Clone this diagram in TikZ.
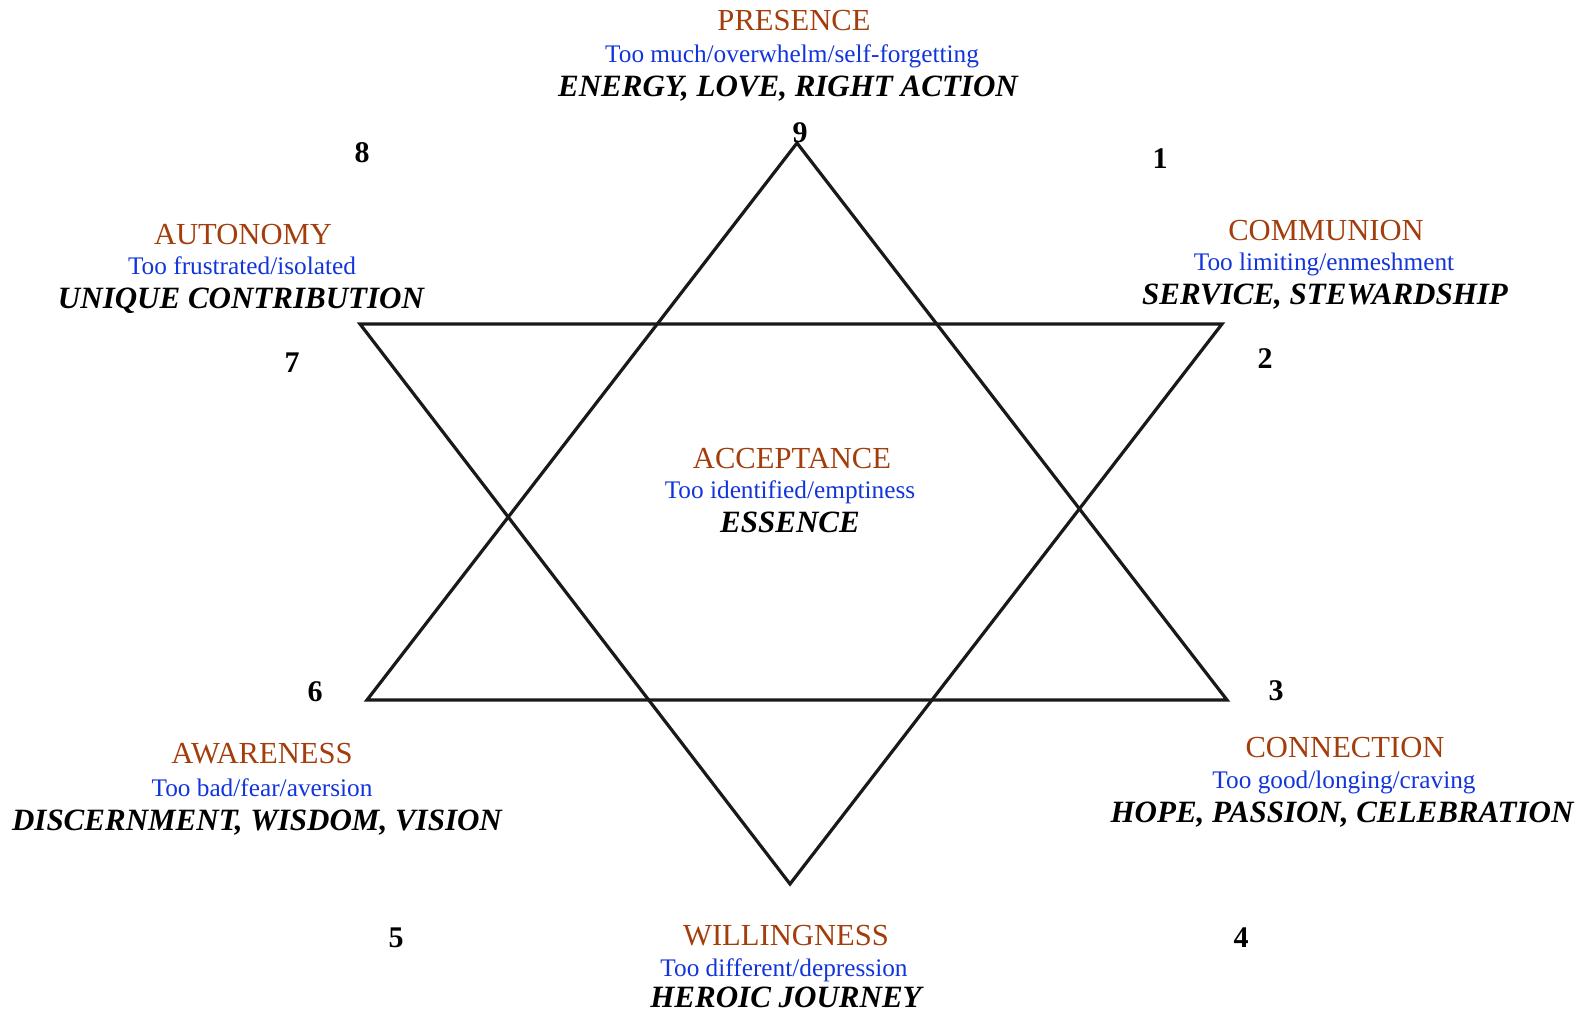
\documentclass[tikz,border=0pt]{standalone}
\usepackage{fontspec}
\setmainfont{Liberation Serif}
\definecolor{titlebrown}{RGB}{163,62,12}
\definecolor{faultblue}{RGB}{18,52,220}

\begin{document}
\begin{tikzpicture}[x=0.5pt,y=-0.5pt]
\tikzstyle{title}=[anchor=base, inner sep=0pt, text=titlebrown, font=\fontsize{15.3}{18}\selectfont]
\tikzstyle{fault}=[anchor=base, inner sep=0pt, text=faultblue, font=\fontsize{12.65}{15}\selectfont]
\tikzstyle{gift}=[anchor=base, inner sep=0pt, font=\fontsize{15.5}{18}\selectfont\bfseries\itshape]
\tikzstyle{num}=[anchor=base, inner sep=0pt, font=\fontsize{15}{18}\selectfont\bfseries]
\tikzstyle{tri}=[line width=1.6pt, draw=black!90]
\useasboundingbox (0,0) rectangle (1581,1012);

% the two triangles
\coordinate (up9) at (797,143);
\coordinate (up6) at (367,700);
\coordinate (up3) at (1227,700);
\coordinate (dn7) at (360,324);
\coordinate (dn2) at (1222,324);
\coordinate (dn5) at (790,884);
\draw[tri] (up9) -- (up3) -- (up6) -- cycle;
\draw[tri] (dn7) -- (dn2) -- (dn5) -- cycle;

% point numbers
\node[num] (n9) at (800,142) {9};
\node[num] (n1) at (1160,168) {1};
\node[num] (n2) at (1265,368) {2};
\node[num] (n3) at (1276,700) {3};
\node[num] (n4) at (1241,947) {4};
\node[num] (n5) at (396,947) {5};
\node[num] (n6) at (315,701) {6};
\node[num] (n7) at (292,372) {7};
\node[num] (n8) at (362,162) {8};

% labels
\node[title] (pres) at (794,31) {PRESENCE};
\node[fault] (pres-fault) at (792,62) {Too much/overwhelm/self-forgetting};
\node[gift] (pres-gift) at (788,96) {ENERGY, LOVE, RIGHT ACTION};

\node[title] (comm) at (1326,240) {COMMUNION};
\node[fault] (comm-fault) at (1324,270) {Too limiting/enmeshment};
\node[gift] (comm-gift) at (1325,304) {SERVICE, STEWARDSHIP};

\node[title] (conn) at (1345,757) {CONNECTION};
\node[fault] (conn-fault) at (1344,788) {Too good/longing/craving};
\node[gift] (conn-gift) at (1342,822) {HOPE, PASSION, CELEBRATION};

\node[title] (will) at (786,945) {WILLINGNESS};
\node[fault] (will-fault) at (784,976) {Too different/depression};
\node[gift] (will-gift) at (786,1007) {HEROIC JOURNEY};

\node[title] (awar) at (262,763) {AWARENESS};
\node[fault] (awar-fault) at (262,796) {Too bad/fear/aversion};
\node[gift] (awar-gift) at (257,830) {DISCERNMENT, WISDOM, VISION};

\node[title] (auto) at (243,244) {AUTONOMY};
\node[fault] (auto-fault) at (242,274) {Too frustrated/isolated};
\node[gift] (auto-gift) at (241,308) {UNIQUE CONTRIBUTION};

\node[title] (acc) at (792,468) {ACCEPTANCE};
\node[fault] (acc-fault) at (790,498) {Too identified/emptiness};
\node[gift] (acc-gift) at (790,532) {ESSENCE};
\end{tikzpicture}
\end{document}
